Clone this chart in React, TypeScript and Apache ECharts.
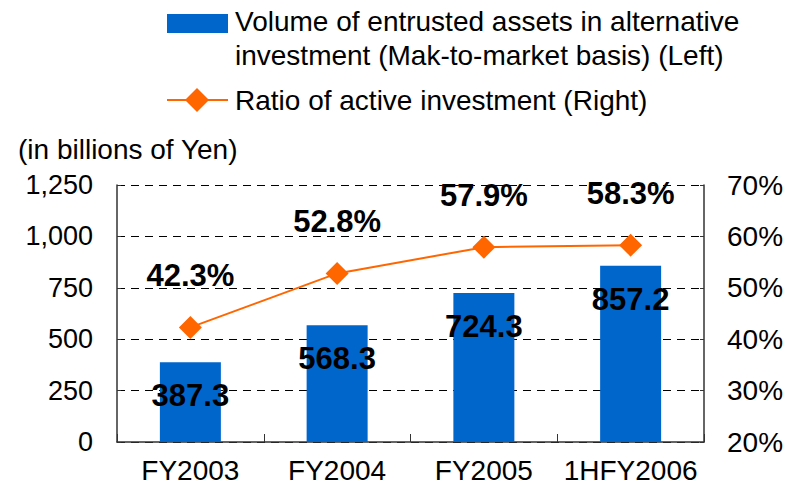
import React, { useEffect, useRef } from "react";
import * as echarts from "echarts";

const categories = ["FY2003", "FY2004", "FY2005", "1HFY2006"];
const assetValues = [387.3, 568.3, 724.3, 857.2];
const activeRatio = [42.3, 52.8, 57.9, 58.3];
const leftTicks = { min: 0, max: 1250, interval: 250 };
const rightTicks = { min: 20, max: 70, interval: 10 };
const barLegend1 = "Volume of entrusted assets in alternative";
const barLegend2 = "investment (Mak-to-market basis) (Left)";
const lineLegend = "Ratio of active investment (Right)";
const unitLabel = "(in billions of Yen)";

const FONT = "'Liberation Sans', Arial, sans-serif";
const BLUE = "#0066CC";
const ORANGE = "#FF6600";

export default function App() {
  const ref = useRef<HTMLDivElement>(null);
  useEffect(() => {
    if (!ref.current) return;
    const chart = echarts.init(ref.current, undefined, { renderer: "svg" });
    chart.setOption({
      animation: false,
      backgroundColor: "#fff",
      textStyle: { fontFamily: FONT },
      grid: { left: 117, right: 94, top: 185, bottom: 56, containLabel: false },
      xAxis: {
        type: "category",
        data: categories,
        axisLine: { lineStyle: { color: "#333", width: 1.5 } },
        axisTick: { show: true, inside: true, length: 8, lineStyle: { color: "#333" } },
        axisLabel: { color: "#000", fontSize: 28, margin: 14, interval: 0, fontFamily: FONT },
      },
      yAxis: [
        {
          type: "value",
          ...leftTicks,
          axisLine: { show: true, lineStyle: { color: "#333", width: 1.5 } },
          axisTick: { show: true, inside: true, length: 4, lineStyle: { color: "#333" } },
          axisLabel: {
            color: "#000",
            fontSize: 27,
            margin: 24,
            fontFamily: FONT,
            formatter: (v: number) => v.toLocaleString("en-US"),
          },
          splitLine: { show: true, lineStyle: { color: "#000", type: [8, 6], width: 1 } },
        },
        {
          type: "value",
          ...rightTicks,
          position: "right",
          axisLine: { show: true, lineStyle: { color: "#333", width: 1.5 } },
          axisTick: { show: true, inside: true, length: 4, lineStyle: { color: "#333" } },
          axisLabel: { color: "#000", fontSize: 28, margin: 23, fontFamily: FONT, formatter: "{value}%" },
          splitLine: { show: false },
        },
      ],
      series: [
        {
          name: "assets",
          type: "bar",
          data: assetValues,
          barWidth: 61,
          itemStyle: { color: BLUE },
          label: {
            show: true,
            position: "insideTop",
            distance: 18,
            color: "#000",
            fontSize: 31,
            fontWeight: "bold",
            fontFamily: FONT,
            formatter: (p: any) => p.value.toFixed(1),
          },
          z: 2,
        },
        {
          name: "ratio",
          type: "line",
          yAxisIndex: 1,
          data: activeRatio,
          symbol: "diamond",
          symbolSize: 23,
          lineStyle: { color: ORANGE, width: 2 },
          itemStyle: { color: ORANGE },
          label: {
            show: true,
            position: "top",
            distance: 25,
            color: "#000",
            fontSize: 31,
            fontWeight: "bold",
            fontFamily: FONT,
            formatter: (p: any) => p.value.toFixed(1) + "%",
          },
          z: 3,
        },
      ],
      graphic: [
        { type: "rect", shape: { x: 167, y: 14, width: 61, height: 19 }, style: { fill: BLUE } },
        {
          type: "text",
          x: 235,
          y: 21,
          style: { text: barLegend1, font: `28px ${FONT}`, fill: "#000", verticalAlign: "middle" },
        },
        {
          type: "text",
          x: 235,
          y: 55,
          style: { text: barLegend2, font: `28px ${FONT}`, fill: "#000", verticalAlign: "middle" },
        },
        { type: "line", shape: { x1: 167, y1: 100, x2: 228, y2: 100 }, style: { stroke: ORANGE, lineWidth: 2 } },
        {
          type: "polygon",
          shape: { points: [[197, 88], [209, 100], [197, 112], [185, 100]] },
          style: { fill: ORANGE },
        },
        {
          type: "text",
          x: 235,
          y: 100,
          style: { text: lineLegend, font: `28px ${FONT}`, fill: "#000", verticalAlign: "middle" },
        },
        {
          type: "text",
          x: 18,
          y: 149,
          style: { text: unitLabel, font: `28px ${FONT}`, fill: "#000", verticalAlign: "middle" },
        },
      ],
    });
    return () => chart.dispose();
  }, []);
  return <div ref={ref} style={{ width: 798, height: 498, position: "absolute", left: 0, top: 0 }} />;
}
